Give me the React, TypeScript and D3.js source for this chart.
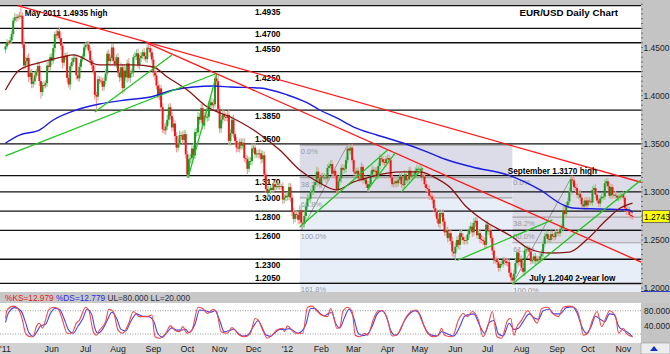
import React from "react";
import * as d3 from "d3";

// ---- data (EUR/USD daily, Apr 2011 - Nov 2012) ----
const firstOpen = 1.448;

// daily closes, one line per month
const closes = [
  1.4513, 1.4557, 1.4555, 1.4575, 1.464, 1.478, 1.4814, 1.4807,
  1.4822, 1.4831, 1.483, 1.4533, 1.4314, 1.4357, 1.4393, 1.4195, 1.4237, 1.4122, 1.4149, 1.421, 1.4245, 1.4308, 1.4151, 1.4038, 1.411, 1.4106, 1.413, 1.4313, 1.4298, 1.44,
  1.4363, 1.4494, 1.4638, 1.4625, 1.4669, 1.4598, 1.452, 1.4343, 1.4408, 1.4414, 1.4185, 1.4116, 1.4306, 1.435, 1.439, 1.4393, 1.4212, 1.418, 1.43, 1.4378, 1.4408, 1.4502,
  1.4525, 1.453, 1.4467, 1.4366, 1.4314, 1.4255, 1.4007, 1.399, 1.417, 1.4156, 1.4148, 1.4093, 1.4154, 1.423, 1.4435, 1.436, 1.439, 1.45, 1.436, 1.433, 1.4398,
  1.424, 1.419, 1.4295, 1.408, 1.426, 1.419, 1.4335, 1.4185, 1.4235, 1.424, 1.44, 1.441, 1.444, 1.432, 1.439, 1.4415, 1.445, 1.441, 1.438, 1.4498, 1.4495, 1.445, 1.4375,
  1.424, 1.421, 1.4105, 1.4, 1.4075, 1.388, 1.365, 1.364, 1.368, 1.375, 1.388, 1.379, 1.367, 1.371, 1.358, 1.346, 1.35, 1.359, 1.359, 1.354, 1.36, 1.339,
  1.318, 1.334, 1.335, 1.345, 1.338, 1.362, 1.362, 1.378, 1.375, 1.387, 1.369, 1.379, 1.378, 1.378, 1.39, 1.393, 1.39, 1.391, 1.418, 1.415, 1.386,
  1.366, 1.375, 1.381, 1.378, 1.377, 1.38, 1.353, 1.361, 1.375, 1.36, 1.353, 1.346, 1.345, 1.352, 1.348, 1.351, 1.335, 1.334, 1.324, 1.332, 1.332, 1.345,
  1.346, 1.339, 1.34, 1.339, 1.34, 1.334, 1.338, 1.318, 1.303, 1.299, 1.302, 1.304, 1.302, 1.308, 1.305, 1.306, 1.305, 1.306, 1.306, 1.292, 1.294, 1.296,
  1.295, 1.305, 1.294, 1.279, 1.272, 1.277, 1.276, 1.271, 1.281, 1.268, 1.267, 1.275, 1.285, 1.293, 1.293, 1.3, 1.301, 1.307, 1.31, 1.321, 1.314, 1.308,
  1.316, 1.315, 1.315, 1.314, 1.325, 1.327, 1.329, 1.319, 1.322, 1.317, 1.302, 1.311, 1.314, 1.325, 1.323, 1.324, 1.333, 1.345, 1.343, 1.346, 1.333,
  1.321, 1.319, 1.322, 1.314, 1.314, 1.326, 1.312, 1.313, 1.308, 1.304, 1.308, 1.318, 1.323, 1.321, 1.322, 1.316, 1.327, 1.335, 1.334, 1.331, 1.33, 1.334,
  1.335, 1.333, 1.315, 1.308, 1.309, 1.311, 1.309, 1.313, 1.316, 1.308, 1.307, 1.318, 1.312, 1.313, 1.322, 1.316, 1.317, 1.318, 1.322, 1.324, 1.324,
  1.324, 1.315, 1.316, 1.308, 1.304, 1.303, 1.296, 1.295, 1.292, 1.283, 1.279, 1.272, 1.267, 1.278, 1.278, 1.269, 1.258, 1.26, 1.252, 1.257, 1.249, 1.238, 1.236,
  1.243, 1.25, 1.245, 1.257, 1.253, 1.25, 1.249, 1.25, 1.256, 1.261, 1.264, 1.258, 1.268, 1.27, 1.255, 1.257, 1.251, 1.25, 1.249, 1.245, 1.266,
  1.259, 1.26, 1.252, 1.239, 1.229, 1.229, 1.227, 1.221, 1.225, 1.225, 1.229, 1.228, 1.226, 1.227, 1.216, 1.211, 1.208, 1.215, 1.226, 1.237, 1.227, 1.23,
  1.221, 1.217, 1.239, 1.24, 1.241, 1.238, 1.228, 1.229, 1.233, 1.228, 1.23, 1.229, 1.233, 1.236, 1.246, 1.254, 1.256, 1.251, 1.25, 1.256, 1.254, 1.253, 1.258,
  1.258, 1.257, 1.261, 1.263, 1.281, 1.277, 1.286, 1.29, 1.3, 1.313, 1.312, 1.305, 1.304, 1.297, 1.298, 1.294, 1.287, 1.285, 1.291, 1.286,
  1.291, 1.29, 1.289, 1.302, 1.304, 1.297, 1.291, 1.288, 1.293, 1.295, 1.295, 1.309, 1.311, 1.306, 1.296, 1.305, 1.297, 1.297, 1.296, 1.294, 1.295, 1.296, 1.297,
  1.294, 1.283, 1.28, 1.281, 1.276, 1.275, 1.2743,
];

// upper / lower shadow lengths in pips
const wickHi = [
  25, 30, 20, 35, 40, 30, 45, 30,
  30, 40, 110, 35, 60, 45, 30, 50, 35, 40, 30, 45, 30, 50, 40, 35, 30, 45, 30, 40, 50, 35,
  40, 35, 30, 45, 26, 40, 50, 35, 45, 30, 40, 35, 30, 45, 40, 35, 30, 45, 40, 35, 30, 40,
  30, 40, 35, 45, 30, 40, 60, 35, 40, 30, 45, 35, 40, 50, 35, 45, 30, 40, 35, 45, 30,
  45, 40, 50, 35, 60, 45, 40, 55, 35, 40, 30, 45, 40, 50, 35, 40, 30, 45, 40, 35, 50, 45, 40,
  40, 35, 45, 50, 40, 35, 45, 60, 40, 50, 35, 45, 40, 55, 35, 40, 50, 45, 35, 40, 45, 40,
  40, 50, 45, 35, 55, 40, 45, 50, 40, 45, 55, 40, 50, 35, 45, 40, 45, 50, 67, 45, 60,
  45, 40, 50, 35, 45, 40, 55, 40, 45, 50, 35, 40, 45, 35, 40, 45, 50, 35, 40, 45, 40, 55,
  40, 45, 35, 40, 45, 35, 50, 40, 45, 35, 40, 30, 35, 40, 30, 35, 25, 30, 25, 40, 35, 30,
  35, 45, 40, 35, 40, 45, 35, 40, 50, 35, 40, 45, 35, 50, 40, 35, 40, 45, 35, 50, 40, 35,
  35, 40, 45, 30, 40, 35, 45, 40, 35, 40, 45, 35, 40, 35, 40, 45, 35, 30, 45, 26, 40,
  35, 40, 30, 35, 40, 45, 30, 35, 40, 30, 35, 40, 45, 30, 35, 40, 35, 45, 30, 35, 40, 35,
  40, 35, 30, 35, 40, 45, 30, 35, 40, 35, 40, 45, 30, 35, 40, 35, 30, 40, 35, 45, 30,
  40, 30, 35, 40, 35, 30, 40, 35, 30, 45, 40, 35, 50, 40, 35, 40, 45, 35, 40, 30, 45, 40, 35,
  45, 40, 50, 35, 45, 40, 35, 50, 40, 35, 45, 40, 50, 35, 45, 40, 35, 40, 45, 35, 40,
  40, 35, 45, 40, 35, 30, 40, 35, 30, 40, 35, 30, 35, 40, 30, 35, 30, 40, 45, 35, 40, 35,
  40, 35, 45, 40, 35, 30, 40, 35, 30, 35, 40, 30, 35, 40, 45, 35, 40, 30, 35, 40, 35, 30, 35,
  30, 35, 40, 35, 45, 40, 35, 40, 45, 40, 40, 35, 40, 45, 35, 40, 35, 40, 35, 40,
  35, 40, 35, 40, 35, 40, 35, 30, 35, 40, 35, 40, 30, 35, 40, 35, 30, 35, 40, 35, 30, 35, 30,
  35, 30, 35, 40, 35, 30, 25,
];
const wickLo = [
  40, 25, 30, 20, 35, 30, 25, 40,
  35, 30, 30, 40, 45, 30, 40, 55, 30, 45, 40, 35, 30, 40, 50, 70, 40, 35, 30, 40, 35, 45,
  50, 30, 45, 35, 40, 30, 45, 60, 35, 40, 45, 30, 55, 35, 30, 40, 45, 30, 35, 40, 30, 35,
  35, 40, 30, 45, 40, 35, 50, 153, 40, 35, 30, 45, 40, 35, 30, 40, 45, 35, 40, 30, 45,
  40, 50, 35, 60, 45, 40, 55, 35, 50, 40, 45, 30, 40, 35, 50, 40, 35, 45, 30, 40, 35, 45, 40,
  45, 50, 40, 35, 50, 45, 40, 35, 45, 40, 50, 35, 45, 40, 60, 50, 40, 35, 45, 40, 35, 45,
  35, 35, 45, 50, 40, 35, 45, 40, 50, 35, 45, 40, 35, 50, 40, 45, 35, 40, 35, 45, 50,
  50, 45, 40, 45, 35, 40, 45, 50, 35, 40, 45, 50, 35, 40, 45, 35, 40, 45, 55, 35, 40, 45,
  45, 40, 35, 45, 40, 50, 35, 45, 40, 50, 35, 40, 35, 30, 35, 30, 25, 30, 35, 45, 40, 35,
  40, 35, 45, 40, 50, 35, 40, 45, 40, 56, 35, 40, 45, 35, 40, 45, 35, 40, 45, 35, 40, 45,
  40, 35, 30, 45, 35, 40, 30, 45, 35, 40, 50, 35, 40, 45, 35, 30, 40, 35, 40, 45, 30,
  40, 35, 45, 30, 40, 35, 45, 30, 40, 35, 40, 30, 35, 40, 45, 35, 30, 40, 35, 30, 40, 35,
  35, 40, 45, 30, 35, 40, 45, 35, 30, 40, 45, 35, 40, 30, 35, 40, 35, 30, 35, 40, 35,
  35, 40, 30, 35, 40, 35, 45, 30, 40, 35, 45, 40, 35, 50, 40, 45, 35, 40, 45, 35, 40, 50, 45,
  72, 45, 40, 50, 35, 45, 40, 35, 45, 40, 35, 50, 40, 45, 35, 40, 45, 35, 40, 45, 35,
  35, 40, 35, 45, 40, 35, 30, 40, 35, 30, 35, 40, 30, 35, 40, 45, 40, 35, 40, 45, 35, 40,
  35, 40, 45, 35, 30, 40, 35, 30, 35, 40, 30, 35, 30, 35, 40, 35, 30, 40, 35, 30, 35, 40, 30,
  35, 30, 35, 40, 35, 45, 35, 40, 35, 40, 45, 35, 40, 35, 45, 40, 35, 40, 35, 45,
  40, 35, 30, 35, 40, 35, 30, 35, 40, 35, 30, 35, 40, 35, 30, 35, 40, 35, 30, 35, 40, 35, 30,
  30, 35, 40, 35, 30, 35, 30,
];

// moving averages, [day, price]
const blueMA: [number, number][] = [
  [0, 1.3508], [9, 1.3591], [22, 1.3643], [31, 1.3747], [46, 1.3851], [61, 1.3913], [78, 1.3955],
  [94, 1.3986], [109, 1.4059], [122, 1.409], [135, 1.41], [146, 1.409], [165, 1.408], [183, 1.4007],
  [196, 1.3924], [204, 1.3851], [215, 1.3768], [226, 1.3674], [241, 1.3591], [258, 1.3508],
  [274, 1.3414], [285, 1.3342], [303, 1.3259], [326, 1.3176], [347, 1.302], [362, 1.2864],
  [368, 1.2833], [386, 1.2822], [405, 1.2812], [407, 1.2785],
];
const brownMA: [number, number][] = [
  [0, 1.4059], [9, 1.4267], [24, 1.435], [37, 1.4402], [44, 1.4423], [61, 1.4319], [83, 1.4319],
  [96, 1.4298], [105, 1.4194], [118, 1.4059], [131, 1.3882], [146, 1.3778], [161, 1.3643],
  [178, 1.3435], [191, 1.3227], [204, 1.3092], [215, 1.302], [226, 1.3103], [237, 1.3155],
  [248, 1.3196], [258, 1.3207], [269, 1.3207], [278, 1.3155], [289, 1.3041], [298, 1.2864],
  [310, 1.2707], [329, 1.2531], [339, 1.2417], [353, 1.2365], [366, 1.2375], [377, 1.2499],
  [390, 1.2707], [399, 1.2832], [407, 1.2884],
];

// trendlines, two [day, price] anchors each
const redLines: [number, number][][] = [
  [[8, 1.4935], [412.5, 1.31]],
  [[92, 1.4547], [412.5, 1.2271]],
];
const greenLines: [number, number][][] = [
  [[0, 1.3374], [136, 1.4225]],
  [[58, 1.383], [108, 1.4423]],
  [[118.5, 1.3145], [137, 1.4215]],
  [[191, 1.2635], [248, 1.3435]],
  [[235, 1.302], [253, 1.3405]],
  [[257, 1.3], [271, 1.3248]],
  [[293, 1.2287], [355, 1.271]],
  [[329, 1.2042], [412.5, 1.3123]],
];

// support / resistance levels
const levels = [1.4935, 1.47, 1.455, 1.425, 1.385, 1.35, 1.317, 1.3, 1.28, 1.26, 1.23, 1.205];
const levelsLabelAbove = [1.35, 1.205];

// fibonacci retracements
const fibA = { from: 191, to: 329, hi: 1.3486, lo: 1.26, lowDay: 192, highDay: 222 };
const fibARatios = [0, 0.382, 0.618, 1, 1.618];
const fibB = { from: 329, to: 412.5, hi: 1.317, lo: 1.204, lowDay: 329, highDay: 368 };
const fibBRatios = [0, 0.382, 0.5, 0.618, 1];

const priceTicks = [1.45, 1.4, 1.35, 1.3, 1.25, 1.2];
const monthTicks: [number, string][] = [
  [0, "'11"], [30, "Jun"], [52, "Jul"], [73, "Aug"], [96, "Sep"], [118, "Oct"], [139, "Nov"],
  [161, "Dec"], [183, "'12"], [205, "Feb"], [226, "Mar"], [248, "Apr"], [269, "May"], [292, "Jun"],
  [313, "Jul"], [335, "Aug"], [358, "Sep"], [378, "Oct"], [401, "Nov"],
];

// slow stochastic, [day, value]
const stochK: [number, number][] = [
  [0, 60], [1, 82], [5, 92], [8, 86], [11, 56], [13, 22], [16, 13], [18, 13], [20, 39], [22, 48], [24, 35],
  [28, 82], [31, 89], [34, 86], [37, 56], [40, 22], [43, 22], [46, 48], [48, 56], [52, 89], [54, 82],
  [57, 26], [59, 17], [61, 30], [65, 52], [67, 84], [70, 78], [73, 30], [76, 22], [80, 48], [83, 78],
  [87, 65], [92, 65], [95, 69], [97, 13], [100, 9], [104, 22], [107, 41], [110, 30], [113, 26], [115, 39],
  [118, 22], [121, 30], [125, 89], [128, 86], [131, 73], [135, 84], [137, 78], [140, 26], [144, 22],
  [147, 37], [149, 30], [152, 17], [155, 13], [159, 22], [162, 60], [164, 56], [167, 30], [170, 9],
  [173, 17], [176, 30], [180, 35], [181, 26], [183, 41], [186, 30], [188, 22], [193, 22], [196, 89],
  [199, 92], [202, 80], [205, 69], [209, 65], [211, 86], [213, 65], [215, 35], [217, 37], [219, 78],
  [222, 89], [225, 78], [227, 17], [230, 13], [233, 22], [235, 17], [239, 60], [242, 80], [245, 80],
  [248, 56], [251, 15], [254, 17], [257, 39], [261, 69], [264, 80], [267, 82], [270, 56], [274, 22],
  [278, 13], [281, 17], [283, 35], [285, 17], [290, 13], [294, 56], [297, 73], [300, 65], [303, 78],
  [307, 56], [310, 13], [313, 39], [316, 78], [319, 13], [322, 9], [326, 56], [328, 60], [330, 17],
  [332, 39], [335, 56], [339, 80], [342, 65], [345, 48], [348, 86], [352, 89], [355, 73], [359, 65],
  [362, 89], [366, 92], [370, 86], [373, 56], [375, 17], [378, 22], [381, 56], [384, 78], [387, 39],
  [390, 65], [392, 80], [396, 65], [398, 22], [401, 35], [403, 22], [407, 13],
];
const stochD: [number, number][] = [
  [0, 50], [2, 75], [6, 88], [10, 80], [13, 50], [15, 25], [18, 14], [21, 30], [23, 42], [26, 45],
  [29, 72], [32, 86], [35, 84], [38, 60], [41, 30], [44, 22], [47, 40], [50, 58], [53, 84], [56, 70],
  [58, 35], [60, 22], [63, 32], [66, 55], [69, 76], [72, 62], [75, 32], [78, 28], [81, 50], [85, 72],
  [89, 66], [93, 65], [96, 55], [99, 20], [102, 12], [105, 25], [108, 36], [111, 30], [114, 30],
  [117, 32], [119, 24], [123, 45], [126, 82], [130, 80], [133, 76], [136, 80], [139, 55], [142, 26],
  [146, 30], [148, 33], [151, 22], [154, 15], [157, 17], [161, 40], [164, 55], [166, 42], [169, 18],
  [172, 14], [175, 24], [178, 32], [182, 32], [184, 34], [187, 28], [190, 22], [195, 45], [198, 86],
  [201, 86], [204, 74], [207, 67], [210, 74], [212, 75], [214, 50], [217, 36], [220, 62], [223, 84],
  [226, 62], [229, 22], [232, 16], [235, 20], [238, 40], [241, 70], [244, 80], [247, 68], [250, 30],
  [253, 17], [256, 28], [259, 55], [263, 75], [266, 80], [269, 70], [272, 38], [276, 18], [280, 15],
  [283, 26], [286, 22], [291, 15], [295, 40], [298, 66], [301, 70], [304, 72], [308, 40], [311, 22],
  [314, 50], [317, 55], [320, 20], [323, 15], [327, 48], [330, 32], [333, 35], [336, 52], [340, 72],
  [343, 62], [346, 58], [349, 80], [353, 84], [356, 72], [360, 72], [364, 88], [368, 90], [371, 74],
  [374, 40], [377, 22], [380, 38], [383, 66], [386, 58], [389, 52], [392, 72], [395, 70], [398, 40],
  [401, 30], [404, 24], [407, 13],
];

const FONT = "'Liberation Sans', Arial, sans-serif";

export default function App() {
  const W = 670;
  const H = 354;
  const plotR = 641;
  const plotT = 5;
  const plotB = 292;
  const stT = 303;
  const stB = 343;

  const x = d3.scaleLinear().domain([-3.57, 412.5]).range([0, plotR]);
  const y = d3.scaleLinear().domain([1.4935, 1.205]).range([5.7, 283.3]);
  const ys = d3.scaleLinear().domain([0, 100]).range([341.8, 303]);

  const line = d3
    .line<[number, number]>()
    .x((d) => x(d[0]))
    .y((d) => y(d[1]))
    .curve(d3.curveMonotoneX);
  const sline = d3
    .line<[number, number]>()
    .x((d) => x(d[0]))
    .y((d) => ys(d[1]))
    .curve(d3.curveMonotoneX);

  const fibShade = (f: typeof fibA, key: string) => {
    const r = f.hi - f.lo;
    const y0 = y(f.hi);
    const y618 = y(f.hi - 0.618 * r);
    return (
      <g key={key}>
        <rect x={x(f.from)} y={y0} width={x(f.to) - x(f.from)} height={y618 - y0} fill="#dcdce8" />
        <rect x={x(f.from)} y={y618} width={x(f.to) - x(f.from)} height={plotB - y618} fill="#e8eef8" />
      </g>
    );
  };
  const fibLines = (f: typeof fibA, ratios: number[], key: string) => {
    const r = f.hi - f.lo;
    return (
      <g key={key}>
        <line x1={x(f.lowDay)} y1={y(f.lo)} x2={x(f.highDay)} y2={y(f.hi)} stroke="#8c8c8c" strokeWidth={0.9} />
        {ratios.map((k) => (
          <g key={k}>
            <line x1={x(f.from)} x2={x(f.to)} y1={y(f.hi - k * r)} y2={y(f.hi - k * r)} stroke="#a4a4a4" strokeWidth={1.2} />
            <text x={x(f.from) + 1} y={y(f.hi - k * r) + 9} fontSize={7.5} fill="#9a9a9a" fontFamily={FONT}>
              {(k * 100).toFixed(1) + "%"}
            </text>
          </g>
        ))}
      </g>
    );
  };

  return (
    <div style={{ position: "fixed", left: 0, top: 0 }}>
      <svg width={W} height={H} style={{ display: "block" }}>
        <defs>
          <clipPath id="plot">
            <rect x={0} y={plotT} width={plotR} height={plotB - plotT} />
          </clipPath>
          <clipPath id="stoch">
            <rect x={0} y={stT} width={plotR} height={stB - stT} />
          </clipPath>
        </defs>
        <rect width={W} height={H} fill="#ffffff" />
        <rect x={0} y={0} width={W} height={plotT} fill="#c4c4c4" />

        <g clipPath="url(#plot)">
          {fibShade(fibA, "fa")}
          {fibShade(fibB, "fb")}
          {fibLines(fibA, fibARatios, "la")}
          {fibLines(fibB, fibBRatios, "lb")}

          {levels.map((lv) => (
            <g key={lv}>
              <line x1={0} x2={plotR} y1={y(lv)} y2={y(lv)} stroke="#111" strokeWidth={1.3} />
              <text
                x={255}
                y={levelsLabelAbove.includes(lv) ? y(lv) - 2 : y(lv) + 9}
                fontSize={8.3}
                fontWeight="bold"
                fill="#000"
                fontFamily={FONT}
              >
                {lv.toFixed(4)}
              </text>
            </g>
          ))}

          {closes.map((c, i) => {
            const o = i === 0 ? firstOpen : closes[i - 1];
            const top = Math.max(o, c);
            const bot = Math.min(o, c);
            const hi = top + wickHi[i] / 10000;
            const lo = bot - wickLo[i] / 10000;
            const up = c >= o;
            const cx = x(i);
            return (
              <g key={i}>
                <line x1={cx} x2={cx} y1={y(hi)} y2={y(lo)} stroke={up ? "#8ccc8c" : "#f59a9a"} strokeWidth={1.1} />
                <rect
                  x={cx - 1}
                  width={2}
                  y={y(top)}
                  height={Math.max(0.9, y(bot) - y(top))}
                  fill={up ? "#1e9a1e" : "#ee1818"}
                />
              </g>
            );
          })}

          <path d={line(blueMA) || ""} fill="none" stroke="#1c1ce0" strokeWidth={1.4} />
          <path d={line(brownMA) || ""} fill="none" stroke="#8a1414" strokeWidth={1.3} />

          {redLines.map((l, k) => (
            <line key={"r" + k} x1={x(l[0][0])} y1={y(l[0][1])} x2={x(l[1][0])} y2={y(l[1][1])} stroke="#ff1a1a" strokeWidth={1.3} />
          ))}
          {greenLines.map((l, k) => (
            <line key={"g" + k} x1={x(l[0][0])} y1={y(l[0][1])} x2={x(l[1][0])} y2={y(l[1][1])} stroke="#22c422" strokeWidth={1.3} />
          ))}

          <text x={x(12.5)} y={y(1.4935) + 10} fontSize={8.2} fontWeight="bold" fontFamily={FONT}>
            May 2011 1.4935 high
          </text>
          <text x={618} y={15.5} textAnchor="end" fontSize={9.8} fontWeight="bold" fontFamily={FONT}>
            EUR/USD Daily Chart
          </text>
          <text x={x(326)} y={y(1.317) - 2} fontSize={8.2} fontWeight="bold" fontFamily={FONT}>
            September 1.3170 high
          </text>
          <text x={x(340)} y={y(1.205) - 2} fontSize={8.2} fontWeight="bold" fontFamily={FONT}>
            July 1.2040 2-year low
          </text>
        </g>

        {/* right price axis */}
        <rect x={plotR} y={0} width={W - plotR} height={plotB} fill="#c4c4c4" />
        <line x1={plotR + 0.5} x2={plotR + 0.5} y1={plotT} y2={plotB} stroke="#d8c47c" strokeWidth={1} />
        {d3.range(1.2, 1.495, 0.005).map((v) => (
          <line key={v} x1={plotR} x2={plotR + 2} y1={y(v)} y2={y(v)} stroke="#555" strokeWidth={0.8} />
        ))}
        {priceTicks.map((v) => (
          <text key={v} x={plotR + 2.5} y={y(v) + 3} fontSize={8.5} fill="#222" fontFamily={FONT}>
            {v.toFixed(4)}
          </text>
        ))}
        <rect x={plotR + 1.5} y={y(closes[closes.length - 1]) - 6} width={27} height={12} fill="#ffff00" stroke="#555" strokeWidth={0.8} />
        <text x={plotR + 3} y={y(closes[closes.length - 1]) + 3} fontSize={8.5} fill="#000" fontFamily={FONT}>
          {closes[closes.length - 1].toFixed(4)}
        </text>
        <line x1={plotR} x2={W} y1={plotB - 0.5} y2={plotB - 0.5} stroke="#3040c0" strokeWidth={1} />

        {/* stochastic header */}
        <rect x={0} y={plotB} width={W} height={stT - plotB} fill="#c8c8c8" />
        <text x={5} y={301} fontSize={8.3} fontFamily={FONT}>
          <tspan fill="#e02020">%KS=12.979 </tspan>
          <tspan fill="#2828e0">%DS=12.779 </tspan>
          <tspan fill="#303040">UL=80.000 LL=20.000</tspan>
        </text>

        {/* stochastic panel */}
        <rect x={plotR} y={stT} width={W - plotR} height={stB - stT} fill="#c4c4c4" />
        <line x1={plotR + 0.5} x2={plotR + 0.5} y1={stT} y2={stB} stroke="#d8c47c" strokeWidth={1} />
        {[80, 20].map((v) => (
          <line key={v} x1={0} x2={plotR} y1={ys(v)} y2={ys(v)} stroke="#999" strokeWidth={1} strokeDasharray="1,1.5" />
        ))}
        {[80, 40].map((v) => (
          <text key={v} x={plotR + 3} y={ys(v) + 3} fontSize={8.5} fill="#222" fontFamily={FONT}>
            {v.toFixed(3)}
          </text>
        ))}
        <g clipPath="url(#stoch)">
          <path d={sline(stochD) || ""} fill="none" stroke="#4444ee" strokeWidth={1.1} />
          <path d={sline(stochK) || ""} fill="none" stroke="#f04848" strokeWidth={1.1} />
        </g>

        {/* time axis */}
        <rect x={0} y={stB} width={W} height={H - stB} fill="#d2d2d2" />
        <rect x={plotR} y={stB} width={W - plotR} height={H - stB} fill="#ececec" stroke="#999" strokeWidth={0.6} />
        <path d={`M${plotR + 9},${351} L${plotR + 13},${346} L${plotR + 17},${351} Z`} fill="#1830c0" />
        {monthTicks.map(([d, lab]) => (
          <text key={d} x={x(d)} y={351.5} textAnchor="middle" fontSize={8.8} fill="#222" fontFamily={FONT}>
            {lab}
          </text>
        ))}
      </svg>
    </div>
  );
}
